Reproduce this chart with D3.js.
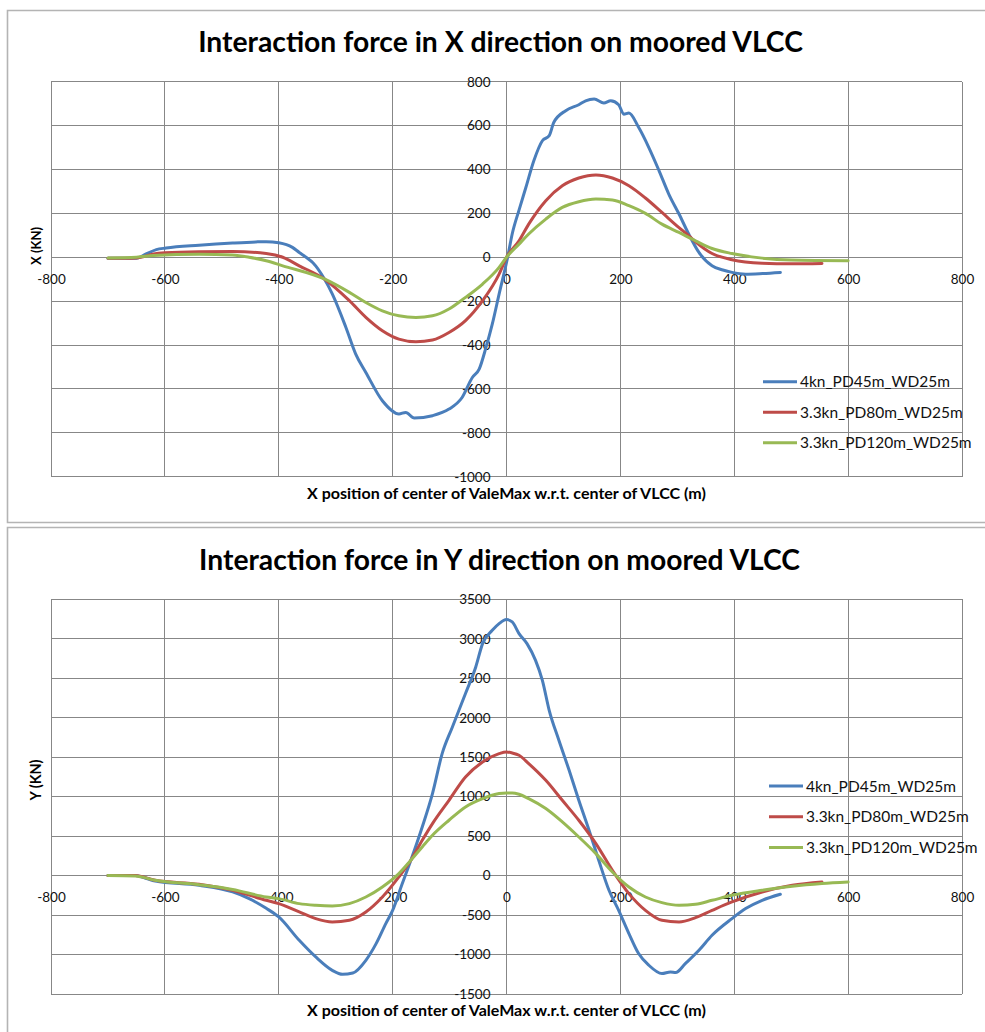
<!DOCTYPE html>
<html>
<head>
<meta charset="utf-8">
<script src="https://cdn.jsdelivr.net/npm/d3@7"></script>
<style>
  html, body { margin: 0; padding: 0; background: #ffffff; }
  svg { display: block; }
</style>
</head>
<body>
<svg id="chart" width="985" height="1032"></svg>
<script>
// ---------------- DATA ----------------
const seriesNames = ["4kn_PD45m_WD25m", "3.3kn_PD80m_WD25m", "3.3kn_PD120m_WD25m"];
const xTicks = [-800, -600, -400, -200, 0, 200, 400, 600, 800];
const yTicksForceX = [800, 600, 400, 200, 0, -200, -400, -600, -800, -1000];
const yTicksForceY = [3500, 3000, 2500, 2000, 1500, 1000, 500, 0, -500, -1000, -1500];

// Interaction force in X direction (kN) vs position (m)
const forceX_4kn_PD45 = [
  [-700,-5],[-650,-5],[-633,15],[-615,35],[-598,42],[-540,55],[-481,65],[-440,70],[-422,71],[-400,66],
  [-376,45],[-364,22],[-352,0],[-340,-25],[-320,-98],[-306,-167],[-282,-320],[-265,-440],[-247,-525],
  [-218,-654],[-189,-714],[-177,-707],[-162,-733],[-130,-722],[-101,-692],[-78,-639],[-60,-548],[-48,-510],
  [-36,-411],[-25,-305],[-13,-168],[2,0],[10,106],[22,215],[34,318],[48,440],[63,531],[75,554],[83,614],
  [104,668],[127,695],[139,713],[154,721],[171,703],[183,713],[197,695],[206,652],[215,657],[232,592],
  [250,500],[268,394],[285,288],[303,197],[320,106],[338,22],[361,-39],[380,-58],[396,-69],[420,-77],
  [450,-74],[481,-69]
];
const forceX_33kn_PD80 = [
  [-700,-5],[-650,-3],[-620,15],[-600,20],[-540,25],[-481,26],[-422,17],[-393,0],[-364,-39],[-320,-99],
  [-276,-198],[-247,-274],[-218,-335],[-189,-373],[-159,-385],[-130,-377],[-101,-343],[-72,-289],
  [-42,-198],[-13,-77],[0,0],[22,75],[39,151],[69,258],[98,326],[127,361],[157,375],[186,361],[215,326],
  [244,270],[273,204],[303,135],[320,98],[332,70],[361,17],[396,-11],[449,-27],[500,-30],[554,-28]
];
const forceX_33kn_PD120 = [
  [-700,-3],[-650,0],[-620,8],[-540,14],[-481,10],[-452,0],[-422,-16],[-393,-39],[-320,-99],[-276,-160],
  [-247,-206],[-218,-244],[-189,-267],[-159,-274],[-130,-267],[-101,-236],[-72,-183],[-42,-122],[-13,-46],
  [0,0],[22,60],[39,106],[69,174],[98,227],[127,253],[157,265],[186,261],[215,235],[244,200],[273,151],
  [303,113],[332,75],[361,40],[396,17],[449,-4],[500,-13],[600,-16]
];

// Interaction force in Y direction (kN) vs position (m)
const forceY_4kn_PD45 = [
  [-700,0],[-652,0],[-635,-30],[-617,-68],[-540,-123],[-481,-207],[-452,-292],[-422,-415],[-400,-524],
  [-364,-820],[-335,-1031],[-306,-1200],[-288,-1250],[-270,-1234],[-247,-1073],[-229,-862],[-212,-608],
  [-200,-440],[-183,-101],[-168,194],[-148,616],[-130,1039],[-113,1545],[-95,1883],[-72,2306],[-54,2643],
  [-42,2939],[-25,3107],[-13,3192],[0,3243],[10,3213],[22,3066],[36,2939],[51,2727],[63,2474],[75,2094],
  [92,1714],[110,1334],[127,954],[145,574],[162,194],[180,-186],[197,-440],[215,-735],[232,-988],
  [250,-1136],[273,-1241],[288,-1221],[297,-1229],[314,-1115],[338,-946],[361,-756],[396,-545],
  [420,-418],[449,-313],[481,-237]
];
const forceY_33kn_PD80 = [
  [-700,0],[-652,0],[-617,-60],[-540,-110],[-481,-186],[-422,-313],[-400,-355],[-364,-461],[-335,-545],
  [-306,-587],[-276,-566],[-247,-461],[-218,-271],[-189,-17],[-168,194],[-148,447],[-130,659],[-101,954],
  [-72,1249],[-42,1439],[-13,1545],[0,1566],[10,1553],[22,1524],[39,1419],[69,1207],[98,954],[127,701],
  [157,405],[186,67],[215,-228],[244,-440],[273,-566],[303,-587],[332,-532],[361,-440],[396,-334],
  [449,-207],[502,-123],[554,-81]
];
const forceY_33kn_PD120 = [
  [-700,0],[-652,-5],[-617,-60],[-540,-115],[-481,-175],[-422,-271],[-400,-292],[-364,-355],[-335,-376],
  [-306,-385],[-276,-355],[-247,-271],[-218,-144],[-189,25],[-168,194],[-148,363],[-130,511],[-101,701],
  [-72,870],[-42,975],[-13,1039],[0,1047],[10,1047],[22,1030],[39,975],[69,849],[98,680],[127,489],
  [157,278],[186,46],[215,-144],[244,-271],[273,-342],[303,-376],[332,-363],[361,-313],[396,-250],
  [449,-186],[502,-135],[554,-101],[600,-81]
];

const seriesColors = ["#4a7ebb", "#be4b48", "#98b954"];

// ---------------- DRAW ----------------
const svg = d3.select("#chart");
svg.append("rect").attr("width", 985).attr("height", 1032).attr("fill", "#fff");

const FONT = "Lato, 'Open Sans', sans-serif";
const GRID = "#878787";

function fitWidth(sel, target) {
  const w = sel.node().getComputedTextLength();
  const fs = parseFloat(sel.attr("font-size"));
  if (w > 0) sel.attr("font-size", (fs * target / w).toFixed(2));
}

// chart frames
const frame = svg.append("g").attr("fill", "none").attr("stroke", "#b4b4b4").attr("stroke-width", 1.6);
frame.append("path").attr("d", "M7.5,1032 V527.5 H985");
frame.append("path").attr("d", "M985,10.5 H7.5 V522.5 H985");

function drawChart(cfg) {
  const g = svg.append("g");
  const x = d3.scaleLinear().domain([-800, 800]).range([51, 962]);
  const y = d3.scaleLinear().domain(cfg.yDomain).range([cfg.bottom, cfg.top]);

  // gridlines
  const grid = g.append("g").attr("stroke", GRID).attr("stroke-width", 1).attr("shape-rendering", "crispEdges");
  grid.selectAll("line.v").data(xTicks).join("line")
    .attr("x1", d => x(d)).attr("x2", d => x(d)).attr("y1", cfg.top).attr("y2", cfg.bottom);
  grid.selectAll("line.h").data(cfg.yTicks).join("line")
    .attr("y1", d => y(d)).attr("y2", d => y(d)).attr("x1", 51).attr("x2", 962);

  // axes (labels at the zero lines)
  const yAxis = g.append("g").attr("transform", `translate(${x(0)},0)`)
    .call(d3.axisLeft(y).tickValues(cfg.yTicks).tickSize(0).tickPadding(16).tickFormat(d => String(d)));
  const xAxis = g.append("g").attr("transform", `translate(0,${y(0)})`)
    .call(d3.axisBottom(x).tickValues(xTicks).tickSize(0).tickPadding(17).tickFormat(d => String(d)));
  [yAxis, xAxis].forEach(a => {
    a.select(".domain").remove();
    a.selectAll("text").attr("font-family", FONT).attr("font-size", 13.5).attr("fill", "#111");
  });

  // lines
  const line = d3.line().x(d => x(d[0])).y(d => y(d[1])).curve(d3.curveMonotoneX);
  cfg.series.forEach((s, i) => {
    g.append("path").datum(s).attr("fill", "none").attr("stroke", seriesColors[i])
      .attr("stroke-width", 3).attr("stroke-linejoin", "round").attr("stroke-linecap", "round").attr("d", line);
  });

  // title
  const t = g.append("text").attr("x", cfg.titleX).attr("y", cfg.titleY).attr("text-anchor", "middle")
    .attr("font-family", FONT).attr("font-weight", "bold").attr("font-size", 26).attr("fill", "#000").text(cfg.title);
  fitWidth(t, cfg.titleW);

  // x axis title
  const xt = g.append("text").attr("x", 506.5).attr("y", cfg.xTitleY).attr("text-anchor", "middle")
    .attr("font-family", FONT).attr("font-weight", "bold").attr("font-size", 13).attr("fill", "#000")
    .text("X position of center of ValeMax  w.r.t. center of VLCC (m)");
  fitWidth(xt, 399);

  // y axis title
  const yt = g.append("text").attr("transform", `translate(41,${cfg.yTitleY}) rotate(-90)`).attr("text-anchor", "middle")
    .attr("font-family", FONT).attr("font-weight", "bold").attr("font-size", 13).attr("fill", "#000").text(cfg.yTitle);
  fitWidth(yt, cfg.yTitleW);

  // legend
  const lg = g.append("g");
  let legendFs = null;
  seriesNames.forEach((name, i) => {
    const yy = cfg.legendY + i * cfg.legendStep;
    lg.append("line").attr("x1", cfg.legendX).attr("x2", cfg.legendX + 34).attr("y1", yy).attr("y2", yy)
      .attr("stroke", seriesColors[i]).attr("stroke-width", 3);
    const tx = lg.append("text").attr("x", cfg.legendX + 37).attr("y", yy).attr("dy", "0.36em")
      .attr("font-family", FONT).attr("font-size", 15).attr("fill", "#111").text(name);
    if (legendFs === null) { fitWidth(tx, 150); legendFs = tx.attr("font-size"); }
    else tx.attr("font-size", legendFs);
  });
}

drawChart({
  title: "Interaction force in X direction on moored VLCC",
  titleX: 500.5, titleY: 52, titleW: 605,
  yTitle: "X (KN)", yTitleY: 246, yTitleW: 38,
  xTitleY: 499,
  yDomain: [-1000, 800], yTicks: yTicksForceX, top: 81.7, bottom: 476.7,
  series: [forceX_4kn_PD45, forceX_33kn_PD80, forceX_33kn_PD120],
  legendX: 763, legendY: 381.7, legendStep: 30.5
});

drawChart({
  title: "Interaction force in Y direction on moored VLCC",
  titleX: 499.5, titleY: 570, titleW: 601,
  yTitle: "Y (KN)", yTitleY: 780, yTitleW: 41,
  xTitleY: 1016,
  yDomain: [-1500, 3500], yTicks: yTicksForceY, top: 599.3, bottom: 994,
  series: [forceY_4kn_PD45, forceY_33kn_PD80, forceY_33kn_PD120],
  legendX: 769, legendY: 786, legendStep: 30.7
});
</script>
</body>
</html>
